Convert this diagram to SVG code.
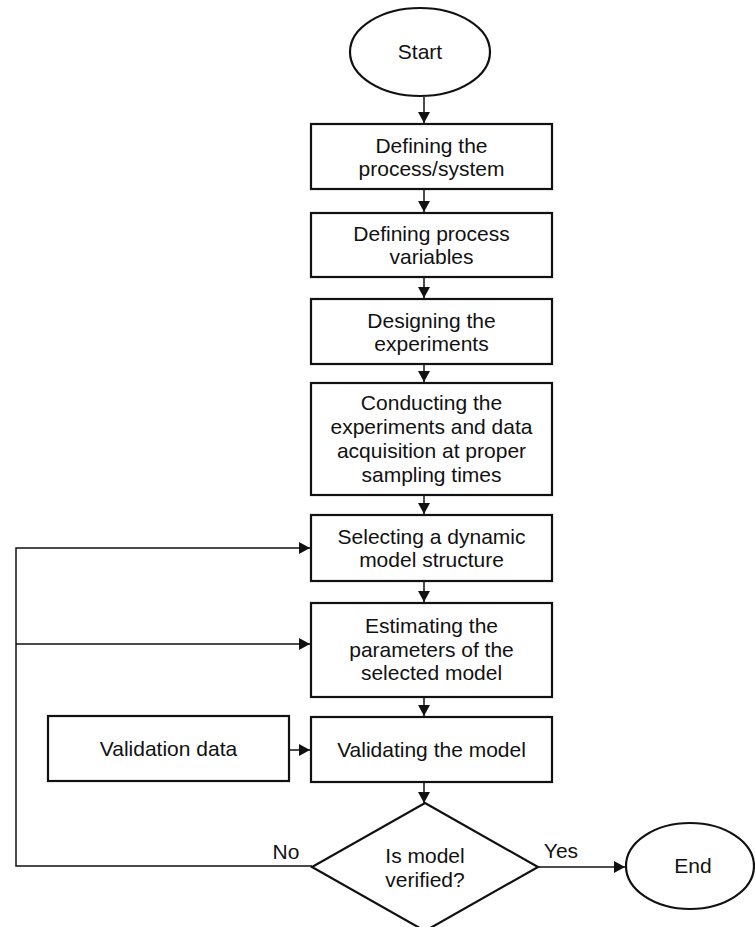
<svg xmlns="http://www.w3.org/2000/svg" width="755" height="927" viewBox="0 0 755 927">
  <style>
    .shape { fill: #ffffff; stroke: #111111; stroke-width: 2.2; }
    .line { fill: none; stroke: #111111; stroke-width: 1.5; }
    text { font-family: "Liberation Sans", Arial, sans-serif; font-size: 21px; fill: #111111; text-anchor: middle; }
  </style>
  <defs>
    <marker id="arrow" viewBox="0 0 11 12" refX="11" refY="6" markerWidth="11" markerHeight="12" markerUnits="userSpaceOnUse" orient="auto">
      <path d="M0,0 L11,6 L0,12 Z" fill="#111111"/>
    </marker>
  </defs>

  <rect width="755" height="927" fill="#ffffff"/>

  <!-- connectors -->
  <g id="connectors">
    <line class="line" x1="424" y1="97" x2="424" y2="123" marker-end="url(#arrow)"/>
    <line class="line" x1="424" y1="189" x2="424" y2="212" marker-end="url(#arrow)"/>
    <line class="line" x1="424" y1="277" x2="424" y2="298" marker-end="url(#arrow)"/>
    <line class="line" x1="424" y1="364" x2="424" y2="382" marker-end="url(#arrow)"/>
    <line class="line" x1="424" y1="495" x2="424" y2="514" marker-end="url(#arrow)"/>
    <line class="line" x1="424" y1="581" x2="424" y2="602" marker-end="url(#arrow)"/>
    <line class="line" x1="424" y1="697" x2="424" y2="716" marker-end="url(#arrow)"/>
    <line class="line" x1="424" y1="782" x2="424" y2="803" marker-end="url(#arrow)"/>
    <line class="line" x1="289" y1="750" x2="310" y2="750" marker-end="url(#arrow)"/>
    <line class="line" x1="538" y1="867" x2="625" y2="867" marker-end="url(#arrow)"/>
    <polyline class="line" points="312,866 16,866 16,548 310,548" marker-end="url(#arrow)"/>
    <line class="line" x1="16" y1="644" x2="310" y2="644" marker-end="url(#arrow)"/>
    <text x="286" y="859">No</text>
    <text x="561" y="858">Yes</text>
  </g>

  <g id="start">
    <ellipse class="shape" cx="420" cy="52" rx="70" ry="44"/>
    <text x="420" y="59">Start</text>
  </g>

  <g id="define-system">
    <rect class="shape" x="311" y="124" width="241" height="65"/>
    <text x="431.5" y="153">Defining the</text>
    <text x="431.5" y="176">process/system</text>
  </g>

  <g id="define-variables">
    <rect class="shape" x="311" y="213" width="241" height="64"/>
    <text x="431.5" y="241">Defining process</text>
    <text x="431.5" y="264">variables</text>
  </g>

  <g id="design-experiments">
    <rect class="shape" x="311" y="299" width="241" height="65"/>
    <text x="431.5" y="328">Designing the</text>
    <text x="431.5" y="351">experiments</text>
  </g>

  <g id="conduct-experiments">
    <rect class="shape" x="311" y="383" width="241" height="112"/>
    <text x="431.5" y="410">Conducting the</text>
    <text x="431.5" y="434">experiments and data</text>
    <text x="431.5" y="458">acquisition at proper</text>
    <text x="431.5" y="482">sampling times</text>
  </g>

  <g id="select-structure">
    <rect class="shape" x="311" y="515" width="241" height="66"/>
    <text x="431.5" y="544">Selecting a dynamic</text>
    <text x="431.5" y="567">model structure</text>
  </g>

  <g id="estimate-parameters">
    <rect class="shape" x="311" y="603" width="241" height="94"/>
    <text x="431.5" y="633">Estimating the</text>
    <text x="431.5" y="657">parameters of the</text>
    <text x="431.5" y="680">selected model</text>
  </g>

  <g id="validate-model">
    <rect class="shape" x="311" y="717" width="241" height="65"/>
    <text x="431.5" y="757">Validating the model</text>
  </g>

  <g id="validation-data">
    <rect class="shape" x="48" y="716" width="241" height="65"/>
    <text x="168.5" y="756">Validation data</text>
  </g>

  <g id="verified-decision">
    <polygon class="shape" points="425,803 538,867 425,931 312,867"/>
    <text x="425" y="863">Is model</text>
    <text x="425" y="887">verified?</text>
  </g>

  <g id="end">
    <ellipse class="shape" cx="690" cy="866" rx="64" ry="43"/>
    <text x="693" y="873">End</text>
  </g>
</svg>
